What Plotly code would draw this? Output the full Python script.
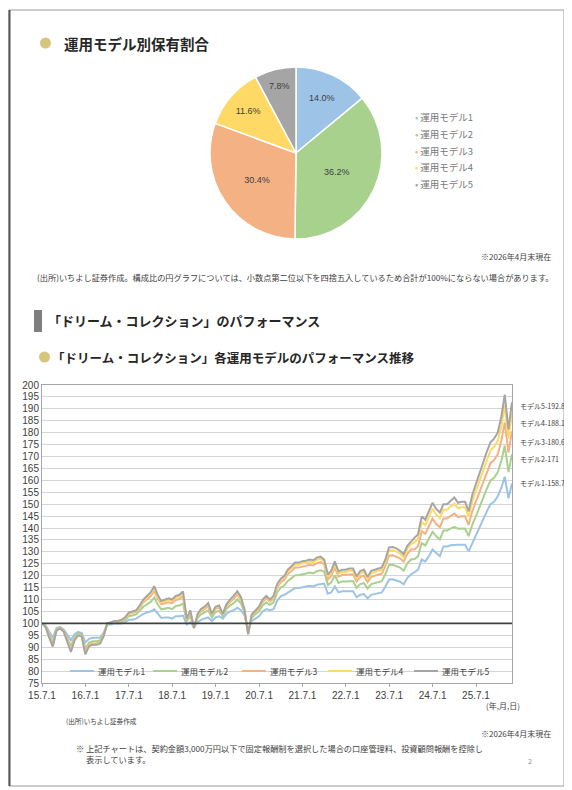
import pandas as pd
import plotly.graph_objects as go

# The page body adds an 8px margin, so the figure is made 8px smaller on each side
# and all reference pixel positions are converted with that offset.
OFF = 8
W, H = 572 - OFF, 790 - OFF
FONT = "Noto Sans CJK JP"
NUMFONT = "Liberation Sans"

# ---------------- data ----------------
model_names = ["運用モデル1", "運用モデル2", "運用モデル3", "運用モデル4", "運用モデル5"]
short_names = ["モデル1", "モデル2", "モデル3", "モデル4", "モデル5"]
pie_values = [14.0, 36.2, 30.4, 11.6, 7.8]
colors = ["#9DC3E6", "#A9D18E", "#F4B183", "#FFD966", "#A5A5A5"]

start_date = "2015-07-01"
month_ends = pd.date_range("2015-07-31", "2026-04-30", freq=pd.offsets.MonthEnd())
dates = [start_date] + [d.strftime("%Y-%m-%d") for d in month_ends]

m1 = [100,
      99.2, 96.5, 94, 98, 98.5, 97.5,
      95, 93, 95.5, 96.5, 96, 92, 93.5, 94, 94, 94, 96, 99.5,
      99.5, 100, 100, 100, 100.5, 101.5, 101.5, 102, 103, 104, 104.5, 105,
      105.9, 104, 102.3, 102.5, 102.5, 102, 103, 103, 103.3, 99.5, 100.5, 98.5,
      100.5, 101.5, 102, 102.5, 101, 102.5, 103, 102, 104, 105, 105.5, 106.6,
      105.5, 103.5, 97, 101, 102, 103, 105, 106, 105.5, 106, 109.5, 111.4,
      112, 113, 114, 114.8, 114.8, 115.3, 115.5, 115.8, 115.5, 116.2, 116.5, 116.7,
      112.5, 113, 115.5, 113, 113.5, 113.5, 113.5, 113.5, 111, 112, 112.3, 110.5,
      112, 112.3, 112.5, 113, 115.5, 118.4, 118.5, 118, 117.5, 116.4, 119, 120.5,
      121.5, 122.5, 126.8, 126, 128.2, 131, 129.5, 128.2, 132.3, 132.3, 132.8, 133,
      133, 133, 133, 130.2, 133.7, 136.5, 140.3, 143.5, 147, 150, 151, 153.3,
      157, 161.5, 152.5, 158.7]

m2 = [100,
      98.9, 95.3, 92.2, 97.5, 98.3, 97.0,
      93.5, 90.5, 94.3, 95.8, 95.3, 89.5, 92.0, 92.5, 92.5, 92.8, 95.3, 99.8,
      100.0, 100.5, 100.5, 100.8, 101.5, 103.0, 103.3, 103.8, 105.3, 107.0, 108.0, 109.0,
      110.8, 108.0, 105.9, 106.3, 106.5, 106.0, 107.3, 107.5, 108.4, 100.8, 103.0, 98.3,
      102.3, 103.8, 104.5, 105.5, 102.5, 104.8, 105.3, 103.0, 106.0, 107.5, 108.5, 110.1,
      108.3, 104.7, 96.2, 102.4, 103.8, 105.0, 107.5, 108.8, 107.8, 108.8, 113.0, 115.1,
      116.0, 117.8, 119.0, 120.2, 120.2, 120.7, 120.9, 121.3, 121.0, 121.9, 122.3, 121.8,
      116.1, 117.1, 120.2, 117.0, 117.6, 117.6, 117.8, 117.8, 114.9, 116.5, 116.9, 114.6,
      116.5, 116.9, 117.2, 117.7, 120.7, 124.5, 124.6, 124.1, 123.4, 122.1, 125.1, 126.8,
      127.0, 128.1, 133.7, 132.7, 135.3, 138.4, 136.5, 135.2, 139.0, 139.0, 139.9, 140.5,
      139.7, 139.8, 139.8, 136.6, 141.4, 144.9, 149.0, 152.4, 156.5, 159.9, 161.1, 163.4,
      168.3, 174.6, 163.5, 171.0]

m3 = [100,
      98.6, 94.5, 91.0, 97.2, 98.1, 96.7,
      92.6, 89.0, 93.5, 95.3, 94.8, 88.0, 91.1, 91.6, 91.6, 92.0, 94.8, 99.9,
      100.3, 100.8, 100.8, 101.2, 102.1, 103.9, 104.3, 104.8, 106.6, 108.8, 110.1, 111.4,
      113.7, 110.4, 108.0, 108.5, 108.9, 108.4, 109.8, 110.2, 111.4, 101.5, 104.5, 98.1,
      103.3, 105.1, 106.0, 107.3, 103.4, 106.1, 106.6, 103.6, 107.2, 109.0, 110.3, 112.1,
      109.9, 105.4, 95.7, 103.2, 104.8, 106.2, 109.0, 110.4, 109.1, 110.4, 115.1, 117.3,
      118.4, 120.7, 122.0, 123.4, 123.4, 123.9, 124.1, 124.6, 124.3, 125.3, 125.7, 124.8,
      118.5, 119.8, 123.4, 119.6, 120.3, 120.3, 120.6, 120.6, 117.5, 119.5, 120.0, 117.3,
      119.5, 120.0, 120.4, 120.9, 124.1, 128.5, 128.6, 128.1, 127.3, 125.9, 129.1, 131.0,
      131.1, 132.3, 138.7, 137.6, 140.6, 143.9, 141.7, 140.3, 144.0, 144.0, 145.1, 146.1,
      144.6, 144.9, 144.9, 141.3, 147.1, 151.0, 155.5, 159.0, 163.5, 167.2, 168.5, 170.9,
      176.7, 184.3, 171.6, 180.6]

m4 = [100,
      98.6, 94.2, 90.6, 97.1, 98.0, 96.6,
      92.2, 88.4, 93.2, 95.1, 94.6, 87.4, 90.7, 91.2, 91.2, 91.7, 94.6, 100.0,
      100.4, 100.9, 100.9, 101.4, 102.3, 104.3, 104.7, 105.2, 107.1, 109.5, 110.9, 112.4,
      114.8, 111.4, 108.8, 109.4, 109.9, 109.4, 110.8, 111.3, 112.6, 101.8, 105.1, 98.0,
      103.7, 105.6, 106.6, 108.0, 103.8, 106.6, 107.1, 103.8, 107.7, 109.6, 111.0, 113.0,
      110.6, 105.7, 95.5, 103.5, 105.2, 106.7, 109.6, 111.1, 109.6, 111.1, 115.9, 118.2,
      119.4, 121.8, 123.2, 124.6, 124.6, 125.2, 125.4, 125.9, 125.6, 126.7, 127.1, 126.0,
      119.7, 121.1, 125.0, 120.9, 121.6, 121.6, 122.1, 122.1, 118.8, 121.0, 121.6, 118.6,
      121.0, 121.5, 122.0, 122.5, 125.9, 130.6, 130.7, 130.2, 129.2, 127.7, 131.2, 133.1,
      134.1, 135.4, 142.5, 141.2, 144.6, 148.1, 145.6, 144.1, 147.7, 147.7, 149.1, 150.2,
      148.3, 148.7, 148.7, 144.8, 151.4, 155.6, 160.3, 163.9, 168.8, 172.6, 174.1, 176.5,
      182.9, 191.5, 177.6, 188.1]

m5 = [100,
      98.5, 94, 90.3, 97, 98, 96.5,
      92, 88, 93, 95, 94.5, 87, 90.5, 91, 91, 91.5, 94.5, 100,
      100.5, 101, 101, 101.5, 102.5, 104.5, 105, 105.5, 107.5, 110, 111.5, 113,
      115.6, 112, 109.4, 110, 110.5, 110, 111.5, 112, 113.4, 102, 105.5, 98,
      104, 106, 107, 108.5, 104, 107, 107.5, 104, 108, 110, 111.5, 113.5,
      111, 105.9, 95.4, 103.7, 105.5, 107, 110, 111.5, 110, 111.5, 116.5, 118.8,
      120, 122.6, 124, 125.5, 125.5, 126.1, 126.3, 126.8, 126.5, 127.6, 128, 126.8,
      120.5, 122, 126, 121.8, 122.5, 122.5, 123, 123, 119.7, 122, 122.6, 119.5,
      122, 122.5, 123, 123.5, 127, 131.9, 132, 131.5, 130.5, 129, 132.5, 134.5,
      136, 137.3, 144.9, 143.5, 147, 150.6, 148, 146.5, 150, 150, 151.5, 152.8,
      150.6, 151, 151, 147, 154, 158.5, 163.3, 167, 172, 176, 177.5, 180,
      186.8, 196, 181.4, 192.8]

series = [m1, m2, m3, m4, m5]

tick_dates = ["2015-07-01", "2016-07-01", "2017-07-01", "2018-07-01", "2019-07-01", "2020-07-01",
              "2021-07-01", "2022-07-01", "2023-07-01", "2024-07-01", "2025-07-01"]
tick_text = ["15.7.1", "16.7.1", "17.7.1", "18.7.1", "19.7.1", "20.7.1",
             "21.7.1", "22.7.1", "23.7.1", "24.7.1", "25.7.1"]


# -------------- helpers (screen pixel -> paper) --------------
def px(x):
    return (x - OFF) / W


def py(y):
    return 1 - (y - OFF) / H


fig = go.Figure()

# ---------------- pie ----------------
fig.add_trace(go.Pie(
    values=pie_values, labels=model_names, sort=False, direction="clockwise", rotation=0,
    marker=dict(colors=colors, line=dict(color="white", width=1.5)),
    texttemplate="%{value:.1f}%", textposition="inside", insidetextorientation="horizontal",
    textfont=dict(family=NUMFONT, size=9, color="#404040"),
    domain=dict(x=[px(210), px(382)], y=[py(239), py(67)]),
    showlegend=False, hoverinfo="label+value", automargin=False,
))

# ---------------- lines ----------------
for name, vals, col in zip(model_names, series, colors):
    fig.add_trace(go.Scatter(x=dates, y=vals, mode="lines", name=name, showlegend=False,
                             line=dict(color=col, width=2), xaxis="x", yaxis="y"))

annotations = []
shapes = []

# page frame
shapes.append(dict(type="rect", xref="paper", yref="paper", x0=px(9), x1=px(564), y0=py(786), y1=py(10),
                   line=dict(color="#9A9A9A", width=1), layer="below"))
shapes.append(dict(type="line", xref="paper", yref="paper", x0=px(9.5), x1=px(9.5), y0=py(786), y1=py(10),
                   line=dict(color="#555555", width=2)))

# title 1
shapes.append(dict(type="circle", xref="paper", yref="paper", x0=px(40), x1=px(51), y0=py(48.5), y1=py(37.5),
                   fillcolor="#D5C57E", line=dict(width=0)))
annotations.append(dict(x=px(62), y=py(43), xref="paper", yref="paper", xanchor="left", yanchor="middle",
                        text="<b>運用モデル別保有割合</b>", showarrow=False,
                        font=dict(family=FONT, size=14.5, color="#262626")))

# pie legend
for i, (name, col) in enumerate(zip(model_names, colors)):
    annotations.append(dict(x=px(413), y=py(117 + i * 16.8), xref="paper", yref="paper",
                            xanchor="left", yanchor="middle", showarrow=False,
                            text=f"<span style='color:{col}'>•</span> {name}",
                            font=dict(family=FONT, size=9.5, color="#7A7A7A")))

annotations.append(dict(x=px(553), y=py(256), xref="paper", yref="paper", xanchor="right", yanchor="middle",
                        text="※2026年4月末現在", showarrow=False,
                        font=dict(family=FONT, size=8, color="#404040")))
annotations.append(dict(x=px(35), y=py(277), xref="paper", yref="paper", xanchor="left", yanchor="middle",
                        text="(出所)いちよし証券作成。構成比の円グラフについては、小数点第二位以下を四捨五入しているため合計が100%にならない場合があります。",
                        showarrow=False, font=dict(family=FONT, size=8.2, color="#404040")))

# section title
shapes.append(dict(type="rect", xref="paper", yref="paper", x0=px(34), x1=px(42), y0=py(332), y1=py(310),
                   fillcolor="#7F7F7F", line=dict(width=0)))
annotations.append(dict(x=px(46), y=py(321), xref="paper", yref="paper", xanchor="left", yanchor="middle",
                        text="<b>「ドリーム・コレクション」のパフォーマンス</b>", showarrow=False,
                        font=dict(family=FONT, size=13, color="#262626")))

# subtitle
shapes.append(dict(type="circle", xref="paper", yref="paper", x0=px(39), x1=px(50), y0=py(362.5), y1=py(351.5),
                   fillcolor="#D5C57E", line=dict(width=0)))
annotations.append(dict(x=px(50), y=py(357), xref="paper", yref="paper", xanchor="left", yanchor="middle",
                        text="<b>「ドリーム・コレクション」各運用モデルのパフォーマンス推移</b>", showarrow=False,
                        font=dict(family=FONT, size=12.5, color="#262626")))

# 100 baseline
shapes.append(dict(type="line", xref="x domain", yref="y", x0=0, x1=1, y0=100, y1=100,
                   line=dict(color="#404040", width=1.6)))

# legend inside the line chart (line swatches + labels)
legend_x = [70, 153, 242, 328, 414]
legend_y = 671
for name, col, lx in zip(model_names, colors, legend_x):
    shapes.append(dict(type="line", xref="paper", yref="paper", x0=px(lx), x1=px(lx + 24),
                       y0=py(legend_y), y1=py(legend_y), line=dict(color=col, width=2)))
    annotations.append(dict(x=px(lx + 26), y=py(legend_y), xref="paper", yref="paper",
                            xanchor="left", yanchor="middle", text=name, showarrow=False,
                            font=dict(family=FONT, size=8.5, color="#404040")))

# end-value labels
label_y = [483, 459, 442, 423, 406]
for nm, vals, yy in zip(short_names, series, label_y):
    annotations.append(dict(x=px(518), y=py(yy), xref="paper", yref="paper", xanchor="left", yanchor="middle",
                            text=f"{nm}-{vals[-1]:g}", showarrow=False,
                            font=dict(family=FONT, size=7, color="#404040")))

# footer texts
annotations.append(dict(x=px(522), y=py(705), xref="paper", yref="paper", xanchor="right", yanchor="middle",
                        text="(年,月,日)", showarrow=False, font=dict(family=FONT, size=8, color="#404040")))
annotations.append(dict(x=px(64), y=py(721), xref="paper", yref="paper", xanchor="left", yanchor="middle",
                        text="(出所)いちよし証券作成", showarrow=False, font=dict(family=FONT, size=6.6, color="#404040")))
annotations.append(dict(x=px(553), y=py(733), xref="paper", yref="paper", xanchor="right", yanchor="middle",
                        text="※2026年4月末現在", showarrow=False, font=dict(family=FONT, size=8, color="#404040")))
annotations.append(dict(x=px(74), y=py(748), xref="paper", yref="paper", xanchor="left", yanchor="middle",
                        text="※ 上記チャートは、契約金額3,000万円以下で固定報酬制を選択した場合の口座管理料、投資顧問報酬を控除し",
                        showarrow=False, font=dict(family=FONT, size=8.2, color="#404040")))
annotations.append(dict(x=px(84), y=py(759), xref="paper", yref="paper", xanchor="left", yanchor="middle",
                        text="表示しています。", showarrow=False, font=dict(family=FONT, size=8.2, color="#404040")))
annotations.append(dict(x=px(530), y=py(761), xref="paper", yref="paper", xanchor="center", yanchor="middle",
                        text="2", showarrow=False, font=dict(family=FONT, size=7, color="#909090")))

fig.update_layout(
    template="none",
    width=W, height=H, margin=dict(l=0, r=0, t=0, b=0, pad=0), autosize=False,
    paper_bgcolor="white", plot_bgcolor="white", showlegend=False,
    font=dict(family=FONT, color="#404040"),
    xaxis=dict(domain=[px(42), px(512)], type="date", range=["2015-07-01", "2026-04-30"],
               tickvals=tick_dates, ticktext=tick_text, showgrid=False, automargin=False,
               showline=True, mirror=True, linecolor="#A6A6A6", linewidth=1,
               ticks="outside", ticklen=3, tickcolor="#A6A6A6",
               tickfont=dict(family=NUMFONT, size=10, color="#404040"), zeroline=False),
    yaxis=dict(domain=[py(683), py(385)], range=[75, 200], tick0=75, dtick=5, automargin=False,
               showgrid=True, gridcolor="#D4D4D4", gridwidth=1,
               showline=True, mirror=True, linecolor="#A6A6A6", linewidth=1,
               ticks="", tickfont=dict(family=NUMFONT, size=10, color="#404040"), zeroline=False),
    annotations=annotations, shapes=shapes,
)

fig.write_html("out.html")
